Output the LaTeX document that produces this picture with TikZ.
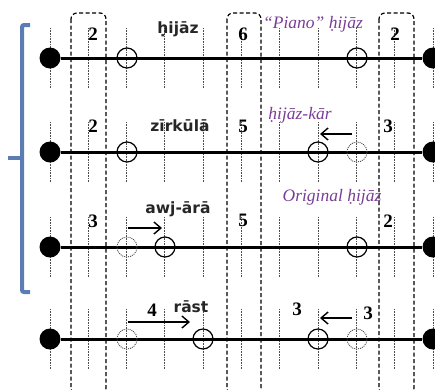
\documentclass[tikz,border=0pt]{standalone}
\usepackage{fontspec}
\setmainfont{Liberation Serif}
\newfontfamily\lblfont{DejaVu Sans}
\usetikzlibrary{arrows.meta}
\definecolor{mypurple}{RGB}{120,62,150}
\definecolor{myblue}{RGB}{92,124,180}
\tikzset{
  tickline/.style={dash pattern=on 0.8pt off 0.8pt, line width=0.9pt, black!70},
  stringline/.style={line width=3pt, black},
  enddot/.style={circle, fill=black, minimum size=21pt, inner sep=0pt},
  fret/.style={circle, draw=black, line width=1.2pt, minimum size=20pt, inner sep=0pt},
  oldfret/.style={circle, draw=black!70, dash pattern=on 1pt off 1pt, line width=0.9pt, minimum size=20pt, inner sep=0pt},
  boxline/.style={line width=1.2pt, rounded corners=6pt, dash pattern=on 4pt off 2.5pt},
  numlbl/.style={font=\bfseries\fontsize{19}{19}\selectfont, inner sep=0pt},
  namelbl/.style={font=\lblfont\bfseries\fontsize{15.5}{15.5}\selectfont, text=black!85, inner sep=0pt},
  purplelbl/.style={font=\itshape\fontsize{17.5}{17.5}\selectfont, text=mypurple, inner sep=0pt},
  movearrow/.style={line width=1.4pt, -{Straight Barb[length=7pt,width=12pt,line width=1.4pt]}},
  bracket/.style={myblue, line width=4pt}
}
\begin{document}
\begin{tikzpicture}[x=1pt,y=-1pt]
\useasboundingbox (0,0) rectangle (435,389);
% ticks
\foreach \r in {58,152,247,339}{
  \foreach \i in {0,...,10}{
    \draw[tickline] ({50+38.3*\i},\r-30) -- ({50+38.3*\i},\r+30);
  }
}
% dashed boxes
\draw[boxline] (71,13) rectangle (106,394);
\draw[boxline] (227,13) rectangle (261,394);
\draw[boxline] (379,13) rectangle (414,394);
% bracket
\draw[bracket, rounded corners=2pt] (30,25) -- (22,25) -- (22,292) -- (30,292);
\draw[bracket] (22,158) -- (8,158);
% strings
\foreach \n/\r in {a/58,b/152,c/247,d/339}{
  \node[enddot] (\n0) at (50,\r) {};
  \node[enddot] (\n1) at (433,\r) {};
  \draw[stringline] (\n0) -- (\n1);
}
% row 1
\node[fret] (a2) at (127,58) {};
\node[fret] (a3) at (357,58) {};
% row 2
\node[fret] (b2) at (127,152) {};
\node[fret] (b3) at (318,152) {};
\node[oldfret] (b4) at (357,152) {};
% row 3
\node[oldfret] (c2) at (127,247) {};
\node[fret] (c3) at (165,247) {};
\node[fret] (c4) at (357,247) {};
% row 4
\node[oldfret] (d2) at (127,339) {};
\node[fret] (d3) at (203,339) {};
\node[fret] (d4) at (318,339) {};
\node[oldfret] (d5) at (357,339) {};
% arrows
\coordinate (b3s) at (352,134); \coordinate (b3e) at (320,134);
\draw[movearrow] (b3s) -- (b3e);
\coordinate (c3s) at (128,228); \coordinate (c3e) at (162,228);
\draw[movearrow] (c3s) -- (c3e);
\coordinate (d3s) at (128,322); \coordinate (d3e) at (190,322);
\draw[movearrow] (d3s) -- (d3e);
\coordinate (d4s) at (352,318); \coordinate (d4e) at (320,318);
\draw[movearrow] (d4s) -- (d4e);
% numbers
\node[numlbl] (n11) at (93,34) {2};
\node[numlbl] (n12) at (243,34) {6};
\node[numlbl] (n13) at (395,34) {2};
\node[numlbl] (n21) at (93,126) {2};
\node[numlbl] (n22) at (243,126) {5};
\node[numlbl] (n23) at (388,126) {3};
\node[numlbl] (n31) at (93,221) {3};
\node[numlbl] (n32) at (243,220) {5};
\node[numlbl] (n33) at (388,221) {2};
\node[numlbl] (n41) at (152,310) {4};
\node[numlbl] (n42) at (297,309) {3};
\node[numlbl] (n43) at (368,313) {3};
% names
\node[namelbl] (t1) at (178,29) {ḥijāz};
\node[namelbl] (t2) at (180,126) {zīrkūlā};
\node[namelbl] (t3) at (178,209) {awj-ārā};
\node[namelbl] (t4) at (191,307) {rāst};
\node[purplelbl] (p1) at (313,24) {“Piano” ḥijāz};
\node[purplelbl] (p2) at (300,115) {ḥijāz-kār};
\node[purplelbl] (p3) at (332,197) {Original ḥijāz};
\end{tikzpicture}
\end{document}
